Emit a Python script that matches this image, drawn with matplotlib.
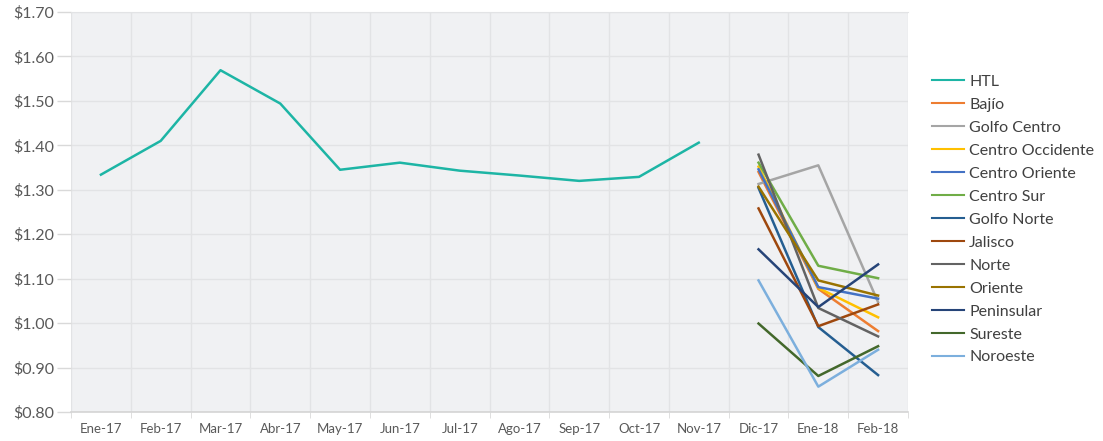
import numpy as np
import matplotlib
matplotlib.use("Agg")
import matplotlib.pyplot as plt
from matplotlib.ticker import FuncFormatter, MultipleLocator

plt.rcParams['font.family'] = ['Lato', 'DejaVu Sans']

# Months on the x axis
months = ["Ene-17", "Feb-17", "Mar-17", "Abr-17", "May-17", "Jun-17", "Jul-17",
          "Ago-17", "Sep-17", "Oct-17", "Nov-17", "Dic-17", "Ene-18", "Feb-18"]

# National series (Ene-17 .. Nov-17)
htl = [1.334, 1.410, 1.569, 1.494, 1.345, 1.361, 1.343, 1.332, 1.320, 1.329, 1.406]

# Regional series (Dic-17, Ene-18, Feb-18)
bajio = [1.340, 1.077, 0.982]
golfo_centro = [1.313, 1.355, 1.047]
centro_occidente = [1.352, 1.079, 1.013]
centro_oriente = [1.346, 1.081, 1.055]
centro_sur = [1.361, 1.129, 1.101]
golfo_norte = [1.304, 0.991, 0.883]
jalisco = [1.258, 0.993, 1.042]
norte = [1.379, 1.034, 0.970]
oriente = [1.307, 1.096, 1.062]
peninsular = [1.166, 1.036, 1.132]
sureste = [0.999, 0.881, 0.948]
noroeste = [1.096, 0.857, 0.940]

regions = [
    ("Bajío", bajio, "#ED7D31"),
    ("Golfo Centro", golfo_centro, "#A5A5A5"),
    ("Centro Occidente", centro_occidente, "#FFC000"),
    ("Centro Oriente", centro_oriente, "#4472C4"),
    ("Centro Sur", centro_sur, "#70AD47"),
    ("Golfo Norte", golfo_norte, "#255E91"),
    ("Jalisco", jalisco, "#9E480E"),
    ("Norte", norte, "#636363"),
    ("Oriente", oriente, "#997300"),
    ("Peninsular", peninsular, "#264478"),
    ("Sureste", sureste, "#43682B"),
    ("Noroeste", noroeste, "#7CAFDD"),
]

fig = plt.figure(figsize=(11.03, 4.41), dpi=100)
ax = fig.add_axes([0.0644, 0.0658, 0.7588, 0.907])
ax.set_facecolor("#F0F1F3")

x = np.arange(len(months))
ax.plot(x[:len(htl)], htl, color="#1DB5A5", lw=1.8, label="HTL")
for name, vals, col in regions:
    ax.plot(x[11:11 + len(vals)], vals, color=col, lw=1.8, label=name)

ax.set_xlim(-0.5, len(months) - 0.5)
ax.set_ylim(0.80, 1.70)
ax.yaxis.set_major_locator(MultipleLocator(0.1))
ax.yaxis.set_major_formatter(FuncFormatter(lambda v, p: f"${v:.2f}"))
ax.set_xticks(x)
ax.set_xticklabels(months)
ax.set_xticks(np.arange(-0.5, len(months), 1), minor=True)

ax.grid(axis="y", color="#E2E3E5", lw=1)
ax.grid(axis="x", which="minor", color="#E2E3E5", lw=1)
ax.set_axisbelow(True)

for s in ["left", "right"]:
    ax.spines[s].set_visible(False)
ax.spines["top"].set_color("#E2E3E5")
ax.spines["bottom"].set_color("#D4D4D4")
ax.spines["bottom"].set_linewidth(1.2)

ax.tick_params(axis="y", length=10, width=1, color="#D9D9D9", labelsize=11.5,
               labelcolor="#595959", pad=2)
ax.tick_params(axis="x", which="major", length=0, labelsize=9.5,
               labelcolor="#595959", pad=8)
ax.tick_params(axis="x", which="minor", length=4, color="#D9D9D9")

leg = ax.legend(loc="center left", bbox_to_anchor=(1.012, 0.481), frameon=False,
                fontsize=11.5, handlelength=2.0, handletextpad=0.3,
                labelspacing=0.55, labelcolor="#404040")
for h in leg.get_lines():
    h.set_linewidth(1.5)

fig.savefig("out.png", dpi=100)
